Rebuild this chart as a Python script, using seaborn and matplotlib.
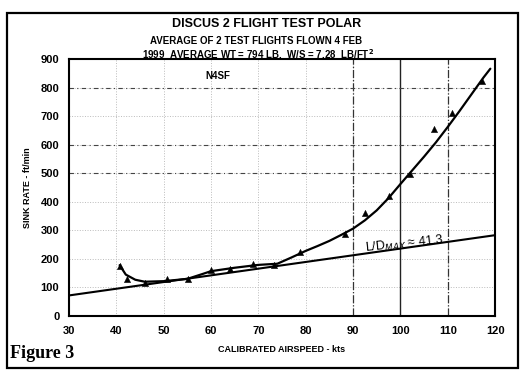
import matplotlib
matplotlib.use("Agg")
import matplotlib.pyplot as plt
import seaborn as sns
import pandas as pd
from matplotlib.patches import Rectangle

# --- test points (averaged flights) ---
test_speed = [40.7, 42.2, 46.1, 50.6, 55.1, 59.9, 64.0, 68.8, 73.2, 78.9,
              88.3, 92.6, 97.5, 102.0, 107.2, 110.9, 117.3]
test_sink = [176, 128, 117, 131, 129, 160, 166, 181, 179, 223,
             287, 362, 419, 497, 654, 711, 822]

# --- drawn polar curve ---
curve_speed = [40.7, 42, 44, 46, 50, 55, 58, 60, 65, 70, 74, 77, 80, 82.5, 85,
               87.5, 90, 92.5, 95, 97.5, 100, 102.5, 105, 107.5, 110, 112.5,
               115, 117.5, 119]
curve_sink = [178, 145, 127, 120, 122, 130, 146, 157, 169, 179, 183, 205, 228, 245, 263,
              284, 306, 335, 370, 413, 462, 510, 558, 608, 662, 718,
              776, 834, 866]

# --- L/D max tangent line ---
tangent_speed = [30, 120]
tangent_sink = [72, 283]

x_ticks = [30, 40, 50, 60, 70, 80, 90, 100, 110, 120]
y_ticks = [0, 100, 200, 300, 400, 500, 600, 700, 800, 900]

pts = pd.DataFrame({"speed": test_speed, "sink": test_sink})
curve = pd.DataFrame({"speed": curve_speed, "sink": curve_sink})
tangent = pd.DataFrame({"speed": tangent_speed, "sink": tangent_sink})

sns.set_style("white")
plt.rcParams['font.family'] = ['Liberation Sans', 'DejaVu Sans']
plt.rcParams['text.color'] = 'black'
plt.rcParams['axes.labelcolor'] = 'black'
plt.rcParams['xtick.color'] = 'black'
plt.rcParams['ytick.color'] = 'black'

fig = plt.figure(figsize=(5.25, 3.77), dpi=100)
ax = fig.add_axes([0.1314, 0.1618, 0.8116, 0.6817])

# grid (mostly faded in the scan)
for xv in x_ticks[1:-1]:
    ax.axvline(xv, color="#bbbbbb", lw=0.7, ls=":", zorder=0)
for yv in y_ticks[1:-1]:
    ax.axhline(yv, color="#bbbbbb", lw=0.7, ls=":", zorder=0)
ax.axvline(90, color="#333333", lw=0.9, ls="-.", zorder=0)
ax.axvline(100, color="#222222", lw=1.0, ls="-", zorder=0)
ax.axvline(110, color="#333333", lw=0.9, ls="-.", zorder=0)
for yv in [800, 600, 500]:
    ax.axhline(yv, color="#444444", lw=0.8, ls=(0, (4, 3, 1, 3)), zorder=0)

sns.lineplot(data=tangent, x="speed", y="sink", ax=ax, color="black", lw=1.5,
             sort=False, estimator=None)
sns.lineplot(data=curve, x="speed", y="sink", ax=ax, color="black", lw=1.6,
             sort=False, estimator=None)
sns.scatterplot(data=pts, x="speed", y="sink", ax=ax, color="black",
                marker="^", s=20, edgecolor="black", zorder=5)

ax.set_xlim(30, 120)
ax.set_ylim(0, 900)
ax.set_xticks(x_ticks)
ax.set_yticks(y_ticks)
ax.tick_params(length=0, labelsize=8, pad=7)
for lab in ax.get_xticklabels() + ax.get_yticklabels():
    lab.set_fontweight("heavy")
for s in ax.spines.values():
    s.set_linewidth(1.5)
    s.set_color("black")

ax.set_xlabel("CALIBRATED AIRSPEED - kts", fontsize=6.5, fontweight="bold", labelpad=7)
ax.set_ylabel("SINK RATE - ft/min", fontsize=6.5, fontweight="bold", labelpad=6)

ax.text(61.5, 840, "N4SF", fontsize=7, fontweight="bold", ha="center", va="center")
ax.text(92.5, 250, r"L/D$_{MAX}$ ≈ 41.3", fontsize=9, rotation=6,
        ha="left", va="center", color="black")

fig.text(0.508, 0.936, "DISCUS 2 FLIGHT TEST POLAR", fontsize=9, fontweight="heavy",
         ha="center", va="center")
fig.text(0.488, 0.891, "AVERAGE OF 2 TEST FLIGHTS FLOWN 4 FEB", fontsize=7,
         fontweight="heavy", ha="center", va="center")
fig.text(0.492, 0.857, "1999  AVERAGE WT = 794 LB.  W/S = 7.28  LB/FT$^{\\mathbf{2}}$",
         fontsize=7, fontweight="heavy", ha="center", va="center")

fig.text(0.02, 0.062, "Figure 3", fontsize=13, fontweight="bold",
         family=["Liberation Serif", "DejaVu Serif"], ha="left", va="center")

fig.patches.append(Rectangle((0.0133, 0.024), 0.973, 0.942, transform=fig.transFigure,
                             fill=False, lw=1.6, ec="black"))

fig.savefig("out.png", dpi=100)
